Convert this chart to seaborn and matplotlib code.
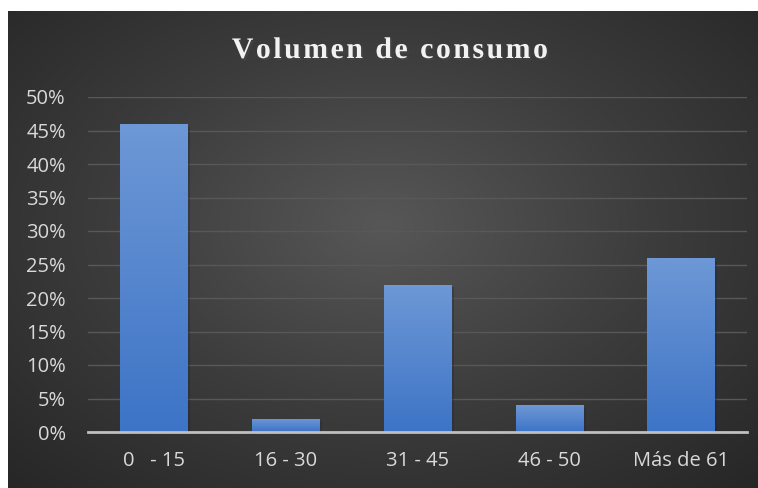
import numpy as np
import pandas as pd
import seaborn as sns
import matplotlib.pyplot as plt
import matplotlib.patheffects as pe
from matplotlib.colors import LinearSegmentedColormap

categorias = ['0   - 15', '16 - 30', '31 - 45', '46 - 50', 'Más de 61']
porcentajes = [0.46, 0.02, 0.22, 0.04, 0.26]
yticks = [0, 0.05, 0.10, 0.15, 0.20, 0.25, 0.30, 0.35, 0.40, 0.45, 0.50]
titulo = 'Volumen de consumo'

df = pd.DataFrame({'rango': categorias, 'valor': porcentajes})

sns.set_theme(style='dark')
plt.rcParams['font.family'] = ['Open Sans', 'DejaVu Sans']

fig = plt.figure(figsize=(7.58, 4.88), dpi=100)
fig.patch.set_facecolor('white')

# dark background with radial gradient (lighter in the centre)
bg = fig.add_axes([8 / 758, 0, 750 / 758, 1 - 11 / 488], zorder=0)
yy, xx = np.mgrid[-1:1:300j, -1:1:400j]
r = np.sqrt((xx / 1.05) ** 2 + ((yy + 0.1) / 1.1) ** 2)
bg_cmap = LinearSegmentedColormap.from_list('bg', ['#575757', '#3c3c3c', '#262626'])
bg.imshow(r, cmap=bg_cmap, vmin=0, vmax=1.4, aspect='auto', interpolation='bicubic')
bg.set_axis_off()

ax = fig.add_axes([88 / 758, 1 - 432 / 488, (747 - 88) / 758, (432 - 97) / 488], zorder=1)
ax.patch.set_alpha(0)

sns.barplot(data=df, x='rango', y='valor', color='#4f82cc', width=0.51,
            linewidth=0, edgecolor='none', ax=ax, zorder=3)

# vertical gradient on each bar
bar_cmap = LinearSegmentedColormap.from_list('bar', ['#3d74c6', '#6e98d6'])
grad = np.linspace(0, 1, 256).reshape(-1, 1)
for p in ax.patches:
    x0, y0 = p.get_x(), p.get_y()
    w, h = p.get_width(), p.get_height()
    p.set_path_effects([pe.SimplePatchShadow(offset=(2, -2), alpha=0.35), pe.Normal()])
    im = ax.imshow(grad, cmap=bar_cmap, extent=(x0, x0 + w, y0, y0 + h), origin='lower',
                   aspect='auto', zorder=4)
    im.set_clip_path(p)

ax.set_xlim(-0.5, 4.5)
ax.set_ylim(0, 0.5)
ax.set_yticks(yticks)
ax.set_yticklabels([f'{int(round(t * 100))}%' for t in yticks])
ax.set_xlabel('')
ax.set_ylabel('')
ax.tick_params(axis='both', length=0, colors='#d9d9d9', labelsize=14.5)
ax.tick_params(axis='y', pad=16)
ax.tick_params(axis='x', pad=14)
ax.grid(axis='y', color='#585858', linewidth=1.0, zorder=1)
ax.grid(axis='x', visible=False)
for s in ['top', 'right', 'left']:
    ax.spines[s].set_visible(False)
ax.spines['bottom'].set_color('#bfbfbf')
ax.spines['bottom'].set_linewidth(2)
ax.spines['bottom'].set_zorder(5)

# letter-spaced title (hair spaces between characters)
titulo_espaciado = '\u200a'.join(titulo)
fig.text(390 / 758, 1 - 58 / 488, titulo_espaciado,
         ha='center', va='baseline', color='#f2f2f2', fontsize=21.5, fontweight='bold',
         family=['Liberation Serif', 'DejaVu Serif'],
         path_effects=[pe.withSimplePatchShadow(offset=(1.5, -1.5), alpha=0.5)])

fig.savefig('out.png', dpi=100, facecolor=fig.get_facecolor())
